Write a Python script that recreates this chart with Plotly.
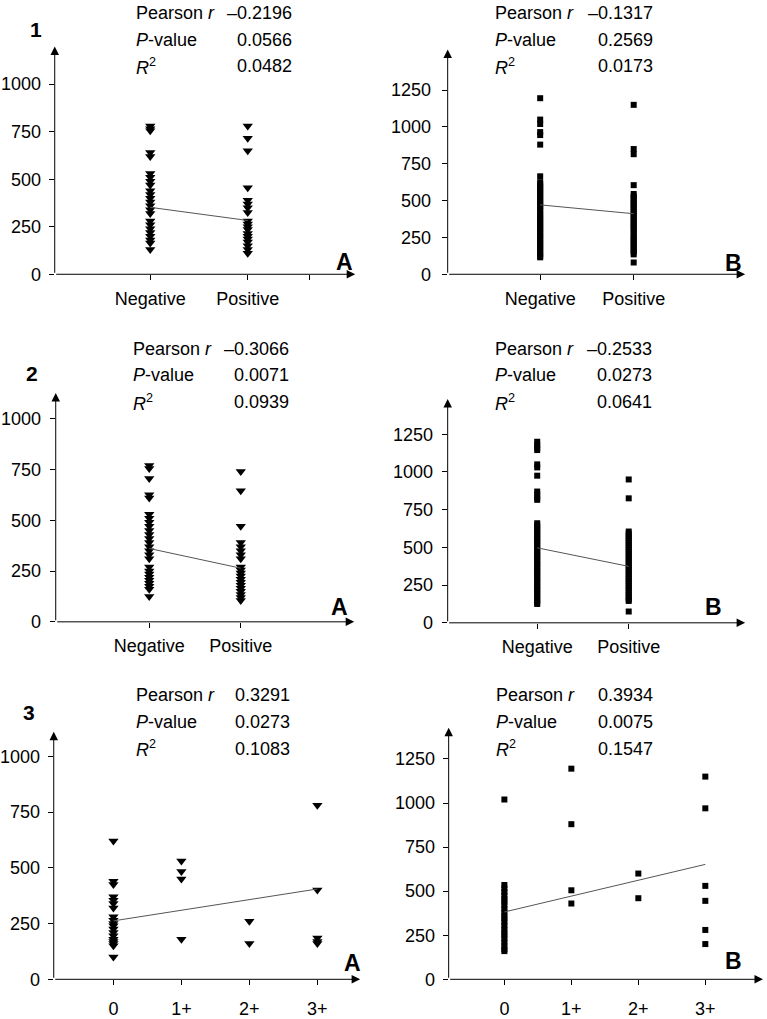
import plotly.graph_objects as go

W, H = 767, 1019

# ---------------- data ----------------
cats_status = ["Negative", "Positive"]
cats_score = ["0", "1+", "2+", "3+"]

neg_1A = [780, 765, 755, 640, 620, 530, 510, 490, 470, 440, 420, 400, 380, 360, 340,
          320, 280, 260, 240, 220, 200, 180, 165, 130]
pos_1A = [780, 715, 650, 455, 390, 370, 350, 325, 280, 265, 250, 235, 215, 200, 185,
          170, 150, 130, 110]
fit_1A = [352, 283]

neg_1B = [1195, 1050, 1020, 965, 945, 880, 665, 625, 610, 595, 580, 565, 550, 535, 520,
          505, 490, 475, 460, 445, 430, 410, 395, 380, 365, 350, 335, 320, 305, 290, 275,
          260, 245, 230, 215, 200, 185, 170, 155, 140, 125, 115]
pos_1B = [1150, 850, 815, 605, 545, 530, 515, 500, 485, 470, 455, 440, 425, 410, 395,
          380, 365, 350, 335, 320, 305, 290, 270, 255, 240, 225, 210, 195, 180, 165, 150,
          135, 80]
fit_1B = [471, 411]

neg_2A = [770, 755, 705, 625, 610, 530, 510, 490, 470, 450, 430, 410, 390, 370, 350,
          330, 310, 270, 250, 235, 220, 205, 190, 175, 160, 125]
pos_2A = [740, 645, 470, 390, 370, 350, 330, 310, 270, 255, 240, 225, 210, 195, 180,
          165, 150, 135, 120, 105]
fit_2A = [361, 264]

neg_2B = [1200, 1180, 1160, 1145, 1050, 1030, 975, 870, 850, 830, 815, 660, 645, 630,
          615, 600, 585, 570, 555, 540, 525, 510, 495, 480, 465, 450, 435, 420, 405, 390,
          375, 360, 345, 330, 315, 300, 285, 270, 255, 240, 225, 210, 195, 180, 165, 150,
          135, 125]
pos_2B = [950, 825, 605, 590, 575, 560, 545, 530, 515, 500, 485, 470, 455, 440, 425, 410,
          395, 380, 365, 350, 335, 320, 305, 290, 275, 260, 245, 230, 215, 200, 185, 170,
          155, 145, 75]
fit_2B = [497, 374]

g0_3A = [620, 440, 425, 370, 355, 340, 320, 280, 265, 250, 240, 225, 210, 195, 180,
         170, 160, 150, 100]
g1_3A = [530, 483, 450, 180]
g2_3A = [260, 160]
g3_3A = [780, 400, 185, 170, 160]
fit_3A = [262, 405]

g0_3B = [1020, 535, 515, 495, 475, 455, 440, 420, 400, 380, 360, 345, 325, 305, 285,
         265, 250, 230, 210, 190, 170, 160]
g1_3B = [1195, 880, 505, 430]
g2_3B = [600, 460]
g3_3B = [1150, 970, 530, 445, 280, 200]
fit_3B = [382, 652]

stats_1A = ["\u20130.2196", "0.0566", "0.0482"]
stats_1B = ["\u20130.1317", "0.2569", "0.0173"]
stats_2A = ["\u20130.3066", "0.0071", "0.0939"]
stats_2B = ["\u20130.2533", "0.0273", "0.0641"]
stats_3A = ["0.3291", "0.0273", "0.1083"]
stats_3B = ["0.3934", "0.0075", "0.1547"]
stat_names = ["Pearson <i>r</i>", "<i>P</i>-value", "<i>R</i><sup>2</sup>"]

# ---------------- layout of the six panels (pixels) ----------------
panels = [
    dict(groups=[neg_1A, pos_1A], cats=cats_status, fit=fit_1A, sym="triangle-down",
         xs=51, xe=353, cpx=[147, 245], y0=277, p250=48.0, ytop=47, ymaxt=1000, ysd=4, xsd=3,
         stats=stats_1A, lx=132, rx=291, sy=13, letter="A", lp=(342, 265),
         num="1", np=(32, 30), extra=[307]),
    dict(groups=[neg_1B, pos_1B], cats=cats_status, fit=fit_1B, sym="square",
         xs=446, xe=745, cpx=[539, 633], y0=277, p250=37.2, ytop=50, ymaxt=1250, ysd=7, xsd=3,
         stats=stats_1B, lx=493, rx=653, sy=13, letter="B", lp=(733, 266),
         num=None, np=None, extra=[]),
    dict(groups=[neg_2A, pos_2A], cats=cats_status, fit=fit_2A, sym="triangle-down",
         xs=52, xe=352, cpx=[146, 238], y0=628, p250=51.3, ytop=397, ymaxt=1000, ysd=5, xsd=3,
         stats=stats_2A, lx=129, rx=287, sy=352, letter="A", lp=(337, 613),
         num="2", np=(28, 377), extra=[]),
    dict(groups=[neg_2B, pos_2B], cats=cats_status, fit=fit_2B, sym="square",
         xs=446, xe=745, cpx=[536, 628], y0=629, p250=38.1, ytop=403, ymaxt=1250, ysd=5, xsd=3,
         stats=stats_2B, lx=493, rx=652, sy=352, letter="B", lp=(713, 613),
         num=None, np=None, extra=[]),
    dict(groups=[g0_3A, g1_3A, g2_3A, g3_3A], cats=cats_score, fit=fit_3A, sym="triangle-down",
         xs=50, xe=358, cpx=[110, 178, 247, 315], y0=989, p250=56.3, ytop=739, ymaxt=1000,
         ysd=4, xsd=8,
         stats=stats_3A, lx=132, rx=289, sy=702, letter="A", lp=(350, 973),
         num="3", np=(25, 720), extra=[]),
    dict(groups=[g0_3B, g1_3B, g2_3B, g3_3B], cats=cats_score, fit=fit_3B, sym="square",
         xs=447, xe=763, cpx=[503, 570, 637, 705], y0=989, p250=44.5, ytop=735, ymaxt=1250,
         ysd=4, xsd=8,
         stats=stats_3B, lx=494, rx=653, sy=702, letter="B", lp=(733, 971),
         num=None, np=None, extra=[]),
]

FONT = "Liberation Sans, Arial, Helvetica, sans-serif"
fig = go.Figure()
annotations = []
layout_axes = {}


def px_x(x):
    return x / W


def px_y(y):
    return 1 - y / H


for i, p in enumerate(panels):
    k = i + 1
    xn = "x" if k == 1 else f"x{k}"
    yn = "y" if k == 1 else f"y{k}"
    n = len(p["cats"])
    sp = (p["cpx"][-1] - p["cpx"][0]) / (n - 1)
    xr = [1 + (p["xs"] - p["cpx"][0]) / sp, 1 + (p["xe"] - p["cpx"][0]) / sp]
    ymax = (p["y0"] - p["ytop"]) / p["p250"] * 250
    for gi, vals in enumerate(p["groups"]):
        fig.add_trace(go.Scatter(
            x=[gi + 1] * len(vals), y=vals, mode="markers",
            marker=dict(symbol=p["sym"], color="black",
                        size=9 if p["sym"] == "triangle-down" else 6,
                        line=dict(width=0)),
            xaxis=xn, yaxis=yn, showlegend=False, cliponaxis=False, hoverinfo="y"))
    fig.add_trace(go.Scatter(
        x=[1, n], y=p["fit"], mode="lines", line=dict(color="#555555", width=1),
        xaxis=xn, yaxis=yn, showlegend=False, hoverinfo="skip"))

    tickv = list(range(1, n + 1))
    tickt = list(p["cats"])
    for e in p["extra"]:
        tickv.append(1 + (e - p["cpx"][0]) / sp)
        tickt.append("")
    xkey = "xaxis" if k == 1 else f"xaxis{k}"
    ykey = "yaxis" if k == 1 else f"yaxis{k}"
    layout_axes[xkey] = dict(
        domain=[px_x(p["xs"]), px_x(p["xe"])], range=xr, anchor=yn,
        showgrid=False, zeroline=False, showline=False,
        tickmode="array", tickvals=tickv, ticktext=tickt,
        ticks="outside", ticklen=5, tickwidth=1, tickcolor="black",
        tickfont=dict(family=FONT, size=18, color="black"), ticklabelstandoff=p["xsd"])
    layout_axes[ykey] = dict(
        domain=[px_y(p["y0"]), px_y(p["ytop"])], range=[0, ymax], anchor=xn,
        showgrid=False, zeroline=False, showline=False,
        tickmode="array", tickvals=list(range(0, p["ymaxt"] + 1, 250)),
        ticks="outside", ticklen=5, tickwidth=1, tickcolor="black",
        tickfont=dict(family=FONT, size=18, color="black"), ticklabelstandoff=p["ysd"])
    annotations.append(dict(x=xr[1], y=0, ax=xr[0], ay=0, xref=xn, yref=yn,
                            axref=xn, ayref=yn, text="", showarrow=True,
                            arrowhead=2, arrowsize=1.7, arrowwidth=1, arrowcolor="black",
                            standoff=0, startstandoff=0))
    annotations.append(dict(x=xr[0], y=ymax, ax=xr[0], ay=0, xref=xn, yref=yn,
                            axref=xn, ayref=yn, text="", showarrow=True,
                            arrowhead=2, arrowsize=1.7, arrowwidth=1, arrowcolor="black",
                            standoff=0, startstandoff=0))
    for r in range(3):
        yy = p["sy"] + 27 * r
        annotations.append(dict(x=px_x(p["lx"]), y=px_y(yy), xref="paper", yref="paper",
                                text=stat_names[r], showarrow=False, xanchor="left",
                                yanchor="middle", borderpad=0,
                                font=dict(family=FONT, size=18, color="black")))
        annotations.append(dict(x=px_x(p["rx"]), y=px_y(yy), xref="paper", yref="paper",
                                text=p["stats"][r], showarrow=False, xanchor="right",
                                yanchor="middle", borderpad=0,
                                font=dict(family=FONT, size=18, color="black")))
    annotations.append(dict(x=px_x(p["lp"][0]), y=px_y(p["lp"][1]), xref="paper", yref="paper",
                            text="<b>" + p["letter"] + "</b>", showarrow=False,
                            xanchor="center", yanchor="middle",
                            font=dict(family=FONT, size=23, color="black")))
    if p["num"]:
        annotations.append(dict(x=px_x(p["np"][0]), y=px_y(p["np"][1]), xref="paper",
                                yref="paper", text="<b>" + p["num"] + "</b>", showarrow=False,
                                xanchor="center", yanchor="middle",
                                font=dict(family=FONT, size=21, color="black")))

fig.update_layout(
    width=W, height=H, margin=dict(l=0, r=0, t=0, b=0),
    paper_bgcolor="white", plot_bgcolor="white",
    annotations=annotations, showlegend=False, **layout_axes)

fig.write_html(
    "out.html",
    config={"displayModeBar": False},
    post_script=("var h=document.documentElement,b=document.body;"
                 "h.style.margin='0';h.style.padding='0';h.style.overflow='hidden';"
                 "b.style.margin='0';b.style.padding='0';b.style.overflow='hidden';"))
